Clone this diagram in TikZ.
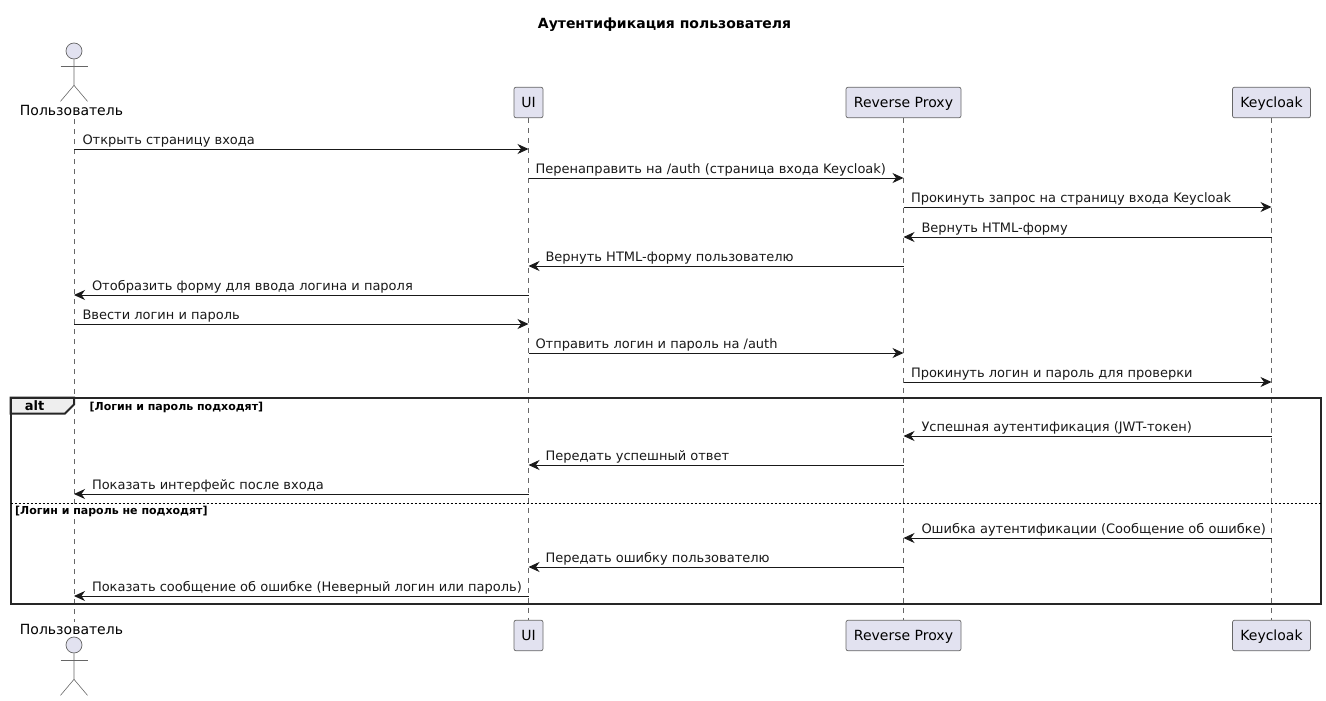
\documentclass[tikz,border=0pt]{standalone}
\usepackage{fontspec}
\setmainfont{DejaVu Sans}
\usetikzlibrary{arrows.meta}
\definecolor{partfill}{HTML}{E2E2F0}
\definecolor{partline}{HTML}{666666}
\definecolor{tabfill}{HTML}{EEEEEE}
\tikzset{
    part/.style={draw=partline,fill=partfill,line width=0.7pt,rounded corners=2pt,font=\fontsize{14}{16}\selectfont,minimum height=30.5pt,inner sep=0pt,text height=11.5pt,text depth=2pt},
    actorname/.style={font=\fontsize{14}{16}\selectfont,minimum height=16pt,inner sep=0pt,text height=10.5pt,text depth=2.5pt},
    actorhead/.style={circle,draw=partline,fill=partfill,line width=0.7pt,minimum size=16pt,inner sep=0pt},
    limb/.style={draw=partline,line width=0.6pt},
    lifeline/.style={draw=partline,line width=0.7pt,dash pattern=on 5pt off 5pt},
    msg/.style={draw=black!90,line width=1pt,-{Stealth[length=11pt,width=10pt,inset=3.5pt]}},
    msgtext/.style={font=\fontsize{13}{15}\selectfont,inner sep=0pt,anchor=base west,text=black!90},
    guardtext/.style={font=\fontsize{11}{13}\selectfont\bfseries,inner sep=0pt,anchor=base west},
}
% arms and legs under a head
\newcommand{\actorlimbs}[1]{
    \draw[limb] (#1.south) -- ++(0,26) -- ++(-13.5,16);
    \draw[limb] (#1.south) ++(0,26) -- ++(13.5,16);
    \draw[limb] (#1.south) ++(-13.5,7) -- ++(27,0);
}
\begin{document}
\begin{tikzpicture}[x=1pt,y=-1pt]
    \useasboundingbox (0,0) rectangle (1326,701);

    \node[font=\fontsize{14}{16}\selectfont\bfseries] (title) at (664.5,25) {Аутентификация пользователя};

    % top row
    \node[actorhead] (usrhead) at (74,51) {};
    \node[actorname] (usr) at (71.5,111) {Пользователь};
    \node[part,minimum width=29pt] (ui) at (528.5,102.5) {UI};
    \node[part,minimum width=115pt] (proxy) at (903.5,102.5) {Reverse Proxy};
    \node[part,minimum width=78pt] (kc) at (1271.5,102.5) {Keycloak};

    % bottom row
    \node[actorname] (usrb) at (71.5,630) {Пользователь};
    \node[actorhead] (usrheadb) at (74,645) {};
    \node[part,minimum width=29pt] (uib) at (528.5,635.5) {UI};
    \node[part,minimum width=115pt] (proxyb) at (903.5,635.5) {Reverse Proxy};
    \node[part,minimum width=78pt] (kcb) at (1271.5,635.5) {Keycloak};

    \actorlimbs{usrhead}
    \actorlimbs{usrheadb}

    % lifelines
    \draw[lifeline] (usrhead |- usr.south) -- (usrheadb |- usrb.north);
    \draw[lifeline] (ui) ++(0,15.25) -- (uib.north);
    \draw[lifeline] (proxy) ++(0,15.25) -- (proxyb.north);
    \draw[lifeline] (kc) ++(0,15.25) -- (kcb.north);

    % heights of the messages
    \foreach \name/\ypos in {a/149,b/178,c/207,d/237,e/266,f/295,g/324,h/353,i/382,j/436,k/465,l/494,m/538,n/567,o/596}
        \coordinate (\name) at (0,\ypos);

    % alt frame
    \node[inner sep=0pt] (frametl) at (10.5,397.5) {};
    \node[inner sep=0pt] (framebr) at (1321,604) {};
    \draw[line width=2pt,draw=black!85,fill=tabfill] (frametl.center) -- (frametl.center -| usrhead) -- ++(0,7) -- ++(-9,9) -- (frametl.center |- 0,413.5) -- cycle;
    \draw[line width=2pt,draw=black!85] (frametl.center) rectangle (framebr.center);
    \draw[line width=1pt,dash pattern=on 2pt off 2pt] (frametl.center |- 0,503) -- (framebr.center |- 0,503);
    \node[font=\fontsize{13}{15}\selectfont\bfseries,inner sep=0pt] (alttag) at (34.5,406) {alt};
    \node[guardtext] (guardok) at (89.5,410) {[Логин и пароль подходят]};
    \node[guardtext] (guardbad) at (15,514) {[Логин и пароль не подходят]};

    % messages
    \draw[msg] (usrhead |- a) -- (ui |- a) node[msgtext,pos=0,xshift=8pt,yshift=4.5pt] (ta) {Открыть страницу входа};
    \draw[msg] (ui |- b) -- (proxy |- b) node[msgtext,pos=0,xshift=6.5pt,yshift=4.5pt] (tb) {Перенаправить на /auth (страница входа Keycloak)};
    \draw[msg] (proxy |- c) -- (kc |- c) node[msgtext,pos=0,xshift=7pt,yshift=4.5pt] (tc) {Прокинуть запрос на страницу входа Keycloak};
    \draw[msg] (kc |- d) -- (proxy |- d) node[msgtext,pos=1,xshift=17.5pt,yshift=4.5pt] (td) {Вернуть HTML-форму};
    \draw[msg] (proxy |- e) -- (ui |- e) node[msgtext,pos=1,xshift=16.5pt,yshift=4.5pt] (te) {Вернуть HTML-форму пользователю};
    \draw[msg] (ui |- f) -- (usrhead |- f) node[msgtext,pos=1,xshift=17.5pt,yshift=4.5pt] (tf) {Отобразить форму для ввода логина и пароля};
    \draw[msg] (usrhead |- g) -- (ui |- g) node[msgtext,pos=0,xshift=8pt,yshift=4.5pt] (tg) {Ввести логин и пароль};
    \draw[msg] (ui |- h) -- (proxy |- h) node[msgtext,pos=0,xshift=6.5pt,yshift=4.5pt] (th) {Отправить логин и пароль на /auth};
    \draw[msg] (proxy |- i) -- (kc |- i) node[msgtext,pos=0,xshift=7pt,yshift=4.5pt] (ti) {Прокинуть логин и пароль для проверки};
    \draw[msg] (kc |- j) -- (proxy |- j) node[msgtext,pos=1,xshift=17.5pt,yshift=4.5pt] (tj) {Успешная аутентификация (JWT-токен)};
    \draw[msg] (proxy |- k) -- (ui |- k) node[msgtext,pos=1,xshift=16.5pt,yshift=4.5pt] (tk) {Передать успешный ответ};
    \draw[msg] (ui |- l) -- (usrhead |- l) node[msgtext,pos=1,xshift=17.5pt,yshift=4.5pt] (tl) {Показать интерфейс после входа};
    \draw[msg] (kc |- m) -- (proxy |- m) node[msgtext,pos=1,xshift=17.5pt,yshift=4.5pt] (tm) {Ошибка аутентификации (Сообщение об ошибке)};
    \draw[msg] (proxy |- n) -- (ui |- n) node[msgtext,pos=1,xshift=16.5pt,yshift=4.5pt] (tn) {Передать ошибку пользователю};
    \draw[msg] (ui |- o) -- (usrhead |- o) node[msgtext,pos=1,xshift=17.5pt,yshift=4.5pt] (to) {Показать сообщение об ошибке (Неверный логин или пароль)};
\end{tikzpicture}
\end{document}
